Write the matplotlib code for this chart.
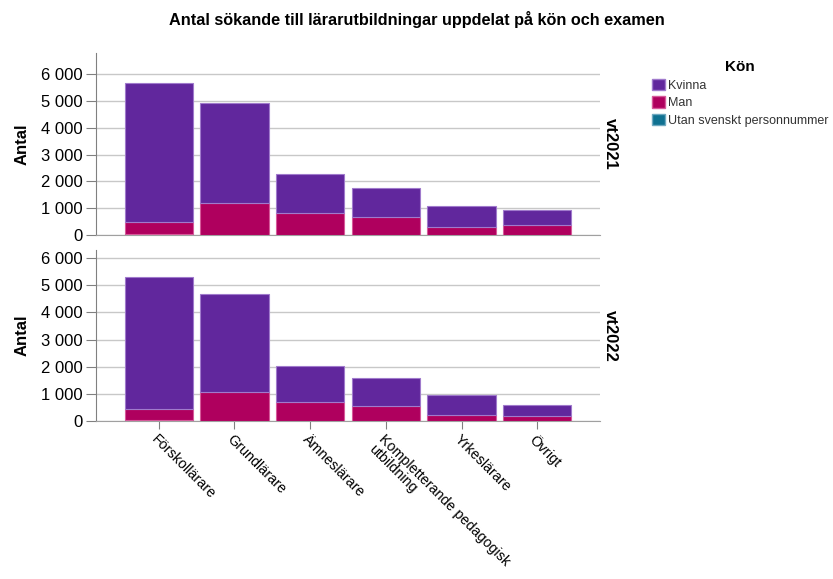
import numpy as np
import matplotlib.pyplot as plt
from matplotlib.patches import Patch
from matplotlib.ticker import FuncFormatter

plt.rcParams['font.family'] = ['Liberation Sans', 'DejaVu Sans']

# data
categories = ['Förskollärare', 'Grundlärare', 'Ämneslärare',
              'Kompletterande pedagogisk\nutbildning', 'Yrkeslärare', 'Övrigt']
terms = ['vt2021', 'vt2022']
utan = {'vt2021': [25, 15, 5, 5, 3, 3],
        'vt2022': [20, 12, 5, 4, 3, 2]}
man = {'vt2021': [445, 1170, 822, 662, 293, 367],
       'vt2022': [435, 1058, 696, 562, 231, 183]}
kvinna = {'vt2021': [5200, 3753, 1469, 1098, 778, 556],
          'vt2022': [4859, 3604, 1316, 1033, 738, 405]}

c_kvinna = '#61279D'
c_man = '#AF005E'
c_utan = '#0F7191'

fig = plt.figure(figsize=(8.33, 5.79), dpi=100)
ax1 = fig.add_axes([96/833, 1-235/579, 504/833, 182/579])
ax2 = fig.add_axes([96/833, 1-421/579, 504/833, 171/579])

x = np.arange(len(categories))
fmt = FuncFormatter(lambda v, p: f'{int(v):,}'.replace(',', ' '))

for ax, t in zip([ax1, ax2], terms):
    u = np.array(utan[t])
    m = np.array(man[t])
    k = np.array(kvinna[t])
    ax.bar(x, u, 0.9, color=c_utan, edgecolor='#6FA9C0', linewidth=0.8, zorder=3)
    ax.bar(x, m, 0.9, bottom=u, color=c_man, edgecolor='#D65A9A', linewidth=0.8, zorder=3)
    ax.bar(x, k, 0.9, bottom=u + m, color=c_kvinna, edgecolor='#A07ACC', linewidth=0.8, zorder=3)
    ax.set_xlim(-0.83, 5.83)
    ax.set_yticks(np.arange(0, 6001, 1000))
    ax.yaxis.set_major_formatter(fmt)
    ax.grid(axis='y', color='#C8C8C8', linewidth=1, zorder=0)
    for s in ['top', 'right']:
        ax.spines[s].set_visible(False)
    ax.spines['left'].set_color('#808080')
    ax.spines['bottom'].set_color('#A0A0A0')
    ax.tick_params(axis='y', labelsize=12, color='#808080', length=7, pad=2.5)
    ax.set_ylabel('Antal', fontsize=12, fontweight='bold', labelpad=8)
    ax.text(1.02, 0.5, t, transform=ax.transAxes, rotation=270, fontsize=12,
            fontweight='bold', ha='center', va='center')

ax1.set_ylim(0, 6800)
ax2.set_ylim(0, 6300)
ax1.set_xticks(x)
ax1.tick_params(axis='x', length=0, labelbottom=False)
ax2.set_xticks(x)
ax2.set_xticklabels(categories, rotation=-45, ha='left', va='top',
                    rotation_mode='anchor', fontsize=10.3, linespacing=1.0)
ax2.tick_params(axis='x', color='#808080', length=6, pad=2)

fig.text(0.5, 1-20/579, 'Antal sökande till lärarutbildningar uppdelat på kön och examen',
         ha='center', va='center', fontsize=11.7, fontweight='bold')

handles = [Patch(facecolor=c_kvinna, edgecolor='#A07ACC', label='Kvinna'),
           Patch(facecolor=c_man, edgecolor='#D65A9A', label='Man'),
           Patch(facecolor=c_utan, edgecolor='#6FA9C0', label='Utan svenskt personnummer')]
leg = fig.legend(handles=handles, title='Kön', loc='upper left',
                 bbox_to_anchor=(652/833, 1-60/579), frameon=False, fontsize=9,
                 title_fontproperties={'weight': 'bold', 'size': 11},
                 handlelength=1.0, handleheight=1.0, handletextpad=0.25,
                 labelspacing=0.38, borderpad=0, borderaxespad=0)
for txt in leg.get_texts():
    txt.set_color('#333333')

fig.savefig('out.png', dpi=100)
